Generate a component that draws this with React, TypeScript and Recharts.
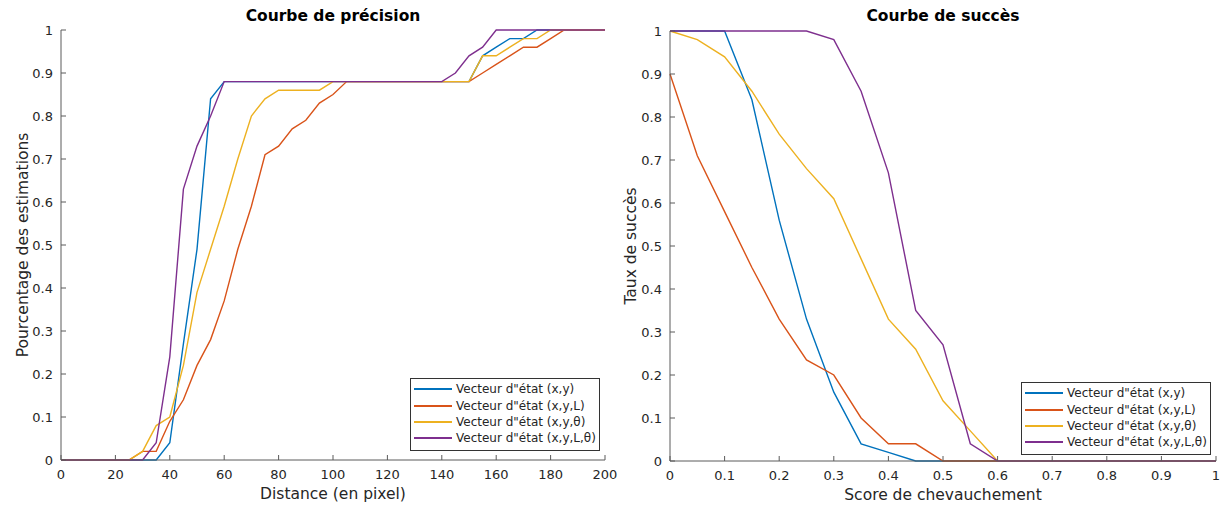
import React from "react";
import { LineChart, Line, XAxis, YAxis, Legend, Label } from "recharts";

const FONT = "'DejaVu Sans', sans-serif";
const AXIS = "#5a5a5a";
const TEXT = "#262626";

const seriesNames = [
  'Vecteur d"état (x,y)',
  'Vecteur d"état (x,y,L)',
  'Vecteur d"état (x,y,θ)',
  'Vecteur d"état (x,y,L,θ)',
];
const seriesColors = ["#0072BD", "#D95319", "#EDB120", "#7E2F8E"];

// courbe de précision
const distances = [
  0, 5, 10, 15, 20, 25, 30, 35, 40, 45, 50, 55, 60, 65, 70, 75, 80, 85, 90, 95, 100,
  105, 110, 115, 120, 125, 130, 135, 140, 145, 150, 155, 160, 165, 170, 175, 180, 185, 190, 195, 200,
];
const precXY = [
  0, 0, 0, 0, 0, 0, 0, 0, 0.04, 0.27, 0.49, 0.84, 0.88, 0.88, 0.88, 0.88, 0.88, 0.88, 0.88, 0.88, 0.88,
  0.88, 0.88, 0.88, 0.88, 0.88, 0.88, 0.88, 0.88, 0.88, 0.88, 0.94, 0.96, 0.98, 0.98, 1, 1, 1, 1, 1, 1,
];
const precXYL = [
  0, 0, 0, 0, 0, 0, 0.02, 0.02, 0.09, 0.14, 0.22, 0.28, 0.37, 0.49, 0.59, 0.71, 0.73, 0.77, 0.79, 0.83, 0.85,
  0.88, 0.88, 0.88, 0.88, 0.88, 0.88, 0.88, 0.88, 0.88, 0.88, 0.9, 0.92, 0.94, 0.96, 0.96, 0.98, 1, 1, 1, 1,
];
const precXYT = [
  0, 0, 0, 0, 0, 0, 0.02, 0.08, 0.1, 0.22, 0.39, 0.49, 0.59, 0.7, 0.8, 0.84, 0.86, 0.86, 0.86, 0.86, 0.88,
  0.88, 0.88, 0.88, 0.88, 0.88, 0.88, 0.88, 0.88, 0.88, 0.88, 0.94, 0.94, 0.96, 0.98, 0.98, 1, 1, 1, 1, 1,
];
const precXYLT = [
  0, 0, 0, 0, 0, 0, 0, 0.04, 0.24, 0.63, 0.73, 0.8, 0.88, 0.88, 0.88, 0.88, 0.88, 0.88, 0.88, 0.88, 0.88,
  0.88, 0.88, 0.88, 0.88, 0.88, 0.88, 0.88, 0.88, 0.9, 0.94, 0.96, 1, 1, 1, 1, 1, 1, 1, 1, 1,
];

// courbe de succès
const overlaps = [
  0, 0.05, 0.1, 0.15, 0.2, 0.25, 0.3, 0.35, 0.4, 0.45, 0.5, 0.55, 0.6, 0.65, 0.7, 0.75, 0.8, 0.85, 0.9, 0.95, 1,
];
const succXY = [1, 1, 1, 0.84, 0.56, 0.33, 0.16, 0.04, 0.02, 0, 0, 0, 0, 0, 0, 0, 0, 0, 0, 0, 0];
const succXYL = [0.9, 0.71, 0.58, 0.45, 0.33, 0.235, 0.2, 0.1, 0.04, 0.04, 0, 0, 0, 0, 0, 0, 0, 0, 0, 0, 0];
const succXYT = [1, 0.98, 0.94, 0.86, 0.76, 0.68, 0.61, 0.47, 0.33, 0.26, 0.14, 0.07, 0, 0, 0, 0, 0, 0, 0, 0, 0];
const succXYLT = [1, 1, 1, 1, 1, 1, 0.98, 0.86, 0.67, 0.35, 0.27, 0.04, 0, 0, 0, 0, 0, 0, 0, 0, 0];

const yTicks = [0, 0.1, 0.2, 0.3, 0.4, 0.5, 0.6, 0.7, 0.8, 0.9, 1];
const distanceTicks = [0, 20, 40, 60, 80, 100, 120, 140, 160, 180, 200];
const overlapTicks = [0, 0.1, 0.2, 0.3, 0.4, 0.5, 0.6, 0.7, 0.8, 0.9, 1];

const precisionData = distances.map((d, i) => ({
  x: d, s0: precXY[i], s1: precXYL[i], s2: precXYT[i], s3: precXYLT[i],
}));
const successData = overlaps.map((o, i) => ({
  x: o, s0: succXY[i], s1: succXYL[i], s2: succXYT[i], s3: succXYLT[i],
}));

const X_GAP = 10;
const Y_GAP = 8;

const XTick = (props: any) => {
  const { x, y, payload } = props;
  const base = y - X_GAP;
  return (
    <g>
      <line x1={x} x2={x} y1={base} y2={base - 5} stroke={AXIS} />
      <text x={x} y={y} dy="0.71em" textAnchor="middle" fill={TEXT} fontSize={13} fontFamily={FONT}>
        {String(payload.value)}
      </text>
    </g>
  );
};

const YTick = (props: any) => {
  const { x, y, payload } = props;
  const base = x + Y_GAP;
  return (
    <g>
      <line x1={base} x2={base + 5} y1={y} y2={y} stroke={AXIS} />
      <text x={x} y={y} dy="0.355em" textAnchor="end" fill={TEXT} fontSize={13} fontFamily={FONT}>
        {String(payload.value)}
      </text>
    </g>
  );
};

const LegendBox = ({ payload }: any) => {
  const items = [...(payload || [])].sort(
    (a: any, b: any) => seriesNames.indexOf(a.value) - seriesNames.indexOf(b.value)
  );
  return (
    <div
      style={{
        border: "1px solid #333",
        background: "#fff",
        padding: "2px 3px 3px 3px",
        fontFamily: FONT,
        fontSize: 12,
        color: TEXT,
        whiteSpace: "nowrap",
      }}
    >
      {items.map((p: any) => (
        <div key={p.value} style={{ display: "flex", alignItems: "center", height: 16.4 }}>
          <svg width={38} height={6} style={{ marginRight: 4, display: "block" }}>
            <line x1={0} x2={38} y1={3} y2={3} stroke={seriesColors[seriesNames.indexOf(p.value)]} strokeWidth={1.8} />
          </svg>
          <span>{p.value}</span>
        </div>
      ))}
    </div>
  );
};

const titleStyle = (left: number, width: number): React.CSSProperties => ({
  position: "absolute",
  left,
  width,
  top: 7,
  textAlign: "center",
  fontFamily: FONT,
  fontWeight: "bold",
  fontSize: 15.5,
  color: "#000",
  lineHeight: "18px",
});

function Lines() {
  return seriesNames.map((name, i) => (
    <Line
      key={name}
      type="linear"
      dataKey={`s${i}`}
      name={name}
      stroke={seriesColors[i]}
      strokeWidth={1.4}
      dot={false}
      activeDot={false}
      isAnimationActive={false}
    />
  ));
}

export default function App() {
  return (
    <div style={{ position: "absolute", left: 0, top: 0, width: 1224, height: 507, background: "#fff" }}>
      <div style={{ position: "absolute", left: 0, top: 0 }}>
        <LineChart width={622} height={507} data={precisionData} margin={{ top: 30, right: 17, bottom: 7, left: 0 }}>
          <XAxis
            dataKey="x"
            type="number"
            domain={[0, 200]}
            ticks={distanceTicks}
            interval={0}
            height={40}
            tickSize={0}
            tickMargin={X_GAP}
            tickLine={false}
            axisLine={{ stroke: AXIS }}
            tick={<XTick />}
          >
            <Label value="Distance (en pixel)" position="insideBottom" offset={1} fill={TEXT} fontSize={15.5} fontFamily={FONT} />
          </XAxis>
          <YAxis
            type="number"
            domain={[0, 1]}
            ticks={yTicks}
            interval={0}
            width={61}
            tickSize={0}
            tickMargin={Y_GAP}
            tickLine={false}
            axisLine={{ stroke: AXIS }}
            tick={<YTick />}
          >
            <Label
              value="Pourcentage des estimations"
              angle={-90}
              position="insideLeft"
              offset={22}
              fill={TEXT}
              fontSize={15.5}
              fontFamily={FONT}
              style={{ textAnchor: "middle" }}
            />
          </YAxis>
          {Lines()}
          <Legend
            layout="vertical"
            align="center"
            verticalAlign="middle"
            wrapperStyle={{ left: 410, top: 378, width: "auto" }}
            content={<LegendBox />}
          />
        </LineChart>
        <div style={titleStyle(61, 544)}>Courbe de précision</div>
      </div>
      <div style={{ position: "absolute", left: 612, top: 0 }}>
        <LineChart width={612} height={507} data={successData} margin={{ top: 31, right: 8, bottom: 6, left: 0 }}>
          <XAxis
            dataKey="x"
            type="number"
            domain={[0, 1]}
            ticks={overlapTicks}
            interval={0}
            height={40}
            tickSize={0}
            tickMargin={X_GAP}
            tickLine={false}
            axisLine={{ stroke: AXIS }}
            tick={<XTick />}
          >
            <Label value="Score de chevauchement" position="insideBottom" offset={1} fill={TEXT} fontSize={15.5} fontFamily={FONT} />
          </XAxis>
          <YAxis
            type="number"
            domain={[0, 1]}
            ticks={yTicks}
            interval={0}
            width={58}
            tickSize={0}
            tickMargin={Y_GAP}
            tickLine={false}
            axisLine={{ stroke: AXIS }}
            tick={<YTick />}
          >
            <Label
              value="Taux de succès"
              angle={-90}
              position="insideLeft"
              offset={18}
              fill={TEXT}
              fontSize={15.5}
              fontFamily={FONT}
              style={{ textAnchor: "middle" }}
            />
          </YAxis>
          {Lines()}
          <Legend
            layout="vertical"
            align="center"
            verticalAlign="middle"
            wrapperStyle={{ left: 409, top: 382, width: "auto" }}
            content={<LegendBox />}
          />
        </LineChart>
        <div style={titleStyle(58, 546)}>Courbe de succès</div>
      </div>
    </div>
  );
}
